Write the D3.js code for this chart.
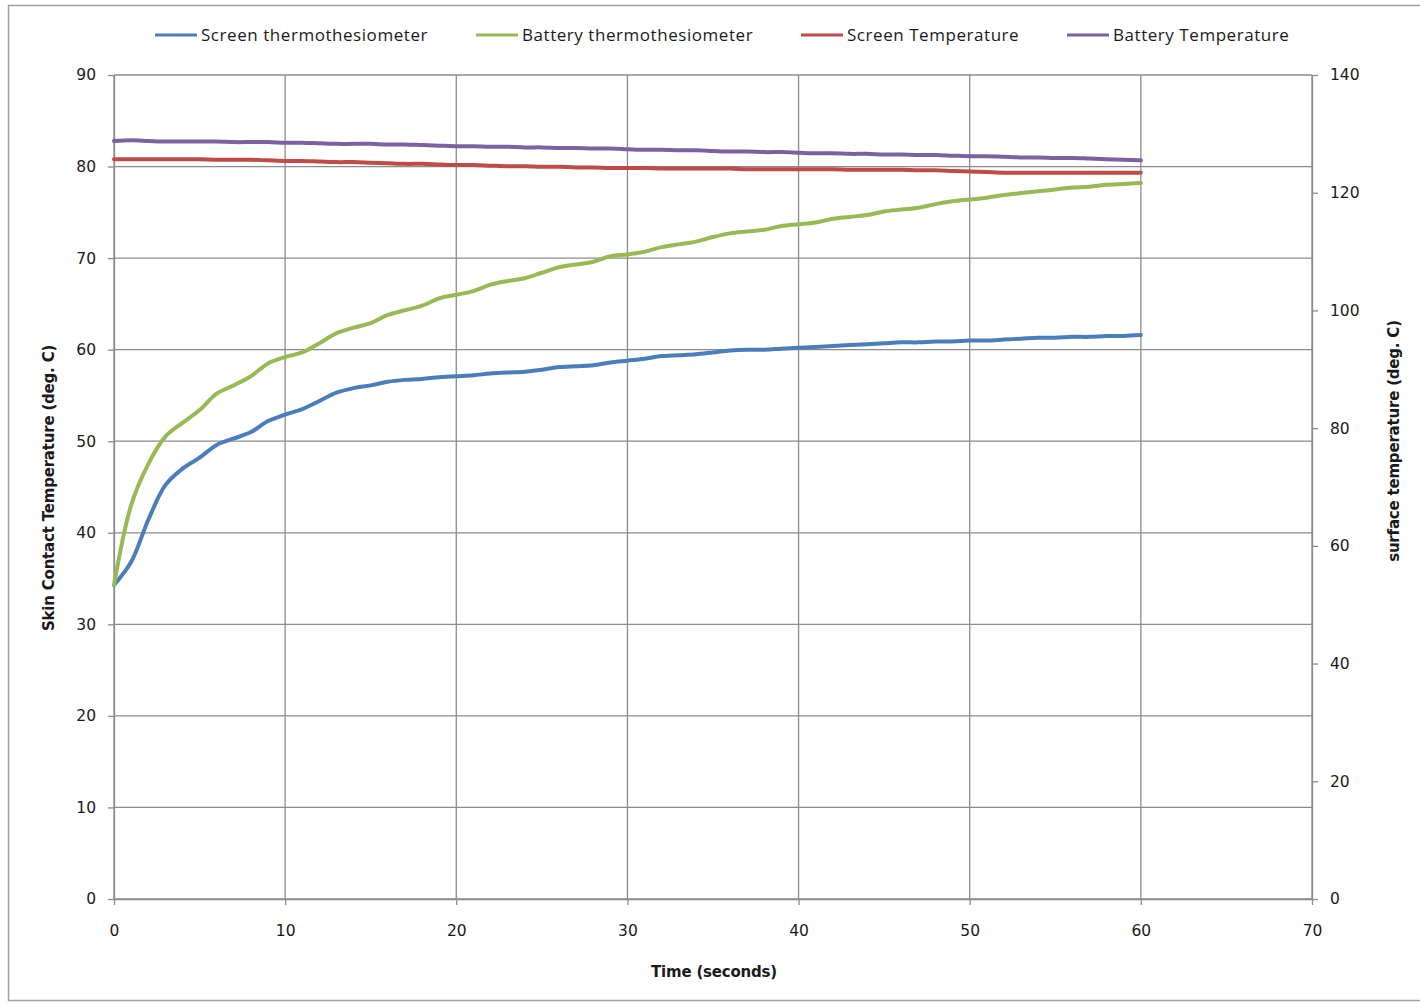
<!DOCTYPE html>
<html><head><meta charset="utf-8">
<script src="https://cdn.jsdelivr.net/npm/d3@7"></script>
<style>body{margin:0;background:#fff}svg{display:block}</style>
</head><body>
<svg id="c" width="1420" height="1003"></svg>
<script>
const seconds = d3.range(0, 61);
const screenThermo = [34.3,36.8,41.4,45.2,47.0,48.2,49.6,50.3,51.0,52.2,52.9,53.5,54.4,55.3,55.8,56.1,56.5,56.7,56.8,57.0,57.1,57.2,57.4,57.5,57.6,57.8,58.1,58.2,58.3,58.6,58.8,59.0,59.3,59.4,59.5,59.7,59.9,60.0,60.0,60.1,60.2,60.3,60.4,60.5,60.6,60.7,60.8,60.8,60.9,60.9,61.0,61.0,61.1,61.2,61.3,61.3,61.4,61.4,61.5,61.5,61.6];
const batteryThermo = [34.3,43.0,47.5,50.5,52.0,53.4,55.2,56.1,57.1,58.5,59.2,59.7,60.7,61.8,62.4,62.9,63.8,64.3,64.8,65.6,66.0,66.4,67.1,67.5,67.8,68.4,69.0,69.3,69.6,70.2,70.4,70.7,71.2,71.5,71.8,72.3,72.7,72.9,73.1,73.5,73.7,73.9,74.3,74.5,74.7,75.1,75.3,75.5,75.9,76.2,76.4,76.6,76.9,77.1,77.3,77.5,77.7,77.8,78.0,78.1,78.2];
const screenTemp = [125.7,125.7,125.7,125.7,125.7,125.7,125.6,125.6,125.6,125.5,125.4,125.4,125.3,125.2,125.2,125.1,125.0,124.9,124.9,124.8,124.7,124.7,124.6,124.5,124.5,124.4,124.4,124.3,124.3,124.2,124.2,124.2,124.1,124.1,124.1,124.1,124.1,124.0,124.0,124.0,124.0,124.0,124.0,123.9,123.9,123.9,123.9,123.8,123.8,123.7,123.6,123.5,123.4,123.4,123.4,123.4,123.4,123.4,123.4,123.4,123.4];
const batteryTemp = [128.8,128.9,128.8,128.7,128.7,128.7,128.7,128.6,128.6,128.6,128.5,128.5,128.4,128.3,128.3,128.3,128.2,128.2,128.1,128.0,127.9,127.9,127.8,127.8,127.7,127.7,127.6,127.6,127.5,127.5,127.4,127.3,127.3,127.2,127.2,127.1,127.0,127.0,126.9,126.9,126.8,126.7,126.7,126.6,126.6,126.5,126.5,126.4,126.4,126.3,126.2,126.2,126.1,126.0,126.0,125.9,125.9,125.8,125.7,125.6,125.5];
const seriesNames = ["Screen thermothesiometer","Battery thermothesiometer","Screen Temperature","Battery Temperature"];
const seriesColors = ["#4A7EBB","#98B954","#BE4B48","#7D60A0"];
const xTicks = [0,10,20,30,40,50,60,70];
const leftTicks = [0,10,20,30,40,50,60,70,80,90];
const rightTicks = [0,20,40,60,80,100,120,140];

const svg = d3.select("#c");
const L=114, R=1312, T=75, B=899;
const x = d3.scaleLinear().domain([0,70]).range([L,R]);
const yL = d3.scaleLinear().domain([0,90]).range([B,T]);
const yR = d3.scaleLinear().domain([0,140]).range([B,T]);
const grid="#8c8c8c", tickFont="DejaVu Sans", txt="#1a1a1a";

svg.append("rect").attr("x",8.5).attr("y",5.5).attr("width",1430).attr("height",995)
  .attr("fill","none").attr("stroke","#a0a0a0").attr("stroke-width",1.5);

// gridlines
svg.append("g").selectAll("line").data(leftTicks).join("line")
  .attr("x1",L).attr("x2",R).attr("y1",d=>yL(d)).attr("y2",d=>yL(d))
  .attr("stroke",grid).attr("stroke-width",1.3);
svg.append("g").selectAll("line").data(xTicks).join("line")
  .attr("x1",d=>x(d)).attr("x2",d=>x(d)).attr("y1",T).attr("y2",B)
  .attr("stroke",grid).attr("stroke-width",1.3);

// axes
const ax = svg.append("g").attr("transform",`translate(0,${B})`)
  .call(d3.axisBottom(x).tickValues(xTicks).tickSize(6).tickPadding(20).tickSizeOuter(0));
const al = svg.append("g").attr("transform",`translate(${L},0)`)
  .call(d3.axisLeft(yL).tickValues(leftTicks).tickSize(6).tickPadding(12).tickSizeOuter(0));
const ar = svg.append("g").attr("transform",`translate(${R},0)`)
  .call(d3.axisRight(yR).tickValues(rightTicks).tickSize(6).tickPadding(12).tickSizeOuter(0));
[ax,al,ar].forEach(g=>{
  g.select(".domain").attr("stroke",grid).attr("stroke-width",1.3);
  g.selectAll(".tick line").attr("stroke",grid).attr("stroke-width",1.3);
  g.selectAll(".tick text").attr("font-family",tickFont).attr("font-size",15.5).attr("fill",txt);
});

// lines
const curve = d3.curveCatmullRom.alpha(0.5);
const left = d3.line().x((d,i)=>x(seconds[i])).y(d=>yL(d)).curve(curve);
const right = d3.line().x((d,i)=>x(seconds[i])).y(d=>yR(d)).curve(curve);
const drawn = [[batteryTemp,right,3],[screenTemp,right,2],[screenThermo,left,0],[batteryThermo,left,1]];
drawn.forEach(([data,gen,ci])=>{
  svg.append("path").datum(data).attr("d",gen).attr("fill","none")
    .attr("stroke",seriesColors[ci]).attr("stroke-width",4).attr("stroke-linejoin","round").attr("stroke-linecap","round");
});

// legend
const legX = [155,476,801,1067];
const lg = svg.append("g");
seriesNames.forEach((n,i)=>{
  lg.append("line").attr("x1",legX[i]).attr("x2",legX[i]+42).attr("y1",35).attr("y2",35)
    .attr("stroke",seriesColors[i]).attr("stroke-width",3);
  lg.append("text").attr("x",legX[i]+46).attr("y",41).text(n)
    .attr("font-family","Open Sans").attr("font-size",17).attr("letter-spacing",0.55).attr("fill",txt);
});

// titles
const title = (sel)=>sel.attr("font-family","DejaVu Sans").attr("font-weight","bold").attr("font-size",15)
  .attr("letter-spacing",-0.2).attr("fill",txt).attr("text-anchor","middle");
svg.append("text").attr("x",714).attr("y",977).call(title).text("Time (seconds)");
svg.append("text").attr("transform","translate(54,488) rotate(-90)").call(title).text("Skin Contact Temperature (deg. C)");
svg.append("text").attr("transform","translate(1399,441) rotate(-90)").call(title).text("surface temperature (deg. C)");
</script>
</body></html>
